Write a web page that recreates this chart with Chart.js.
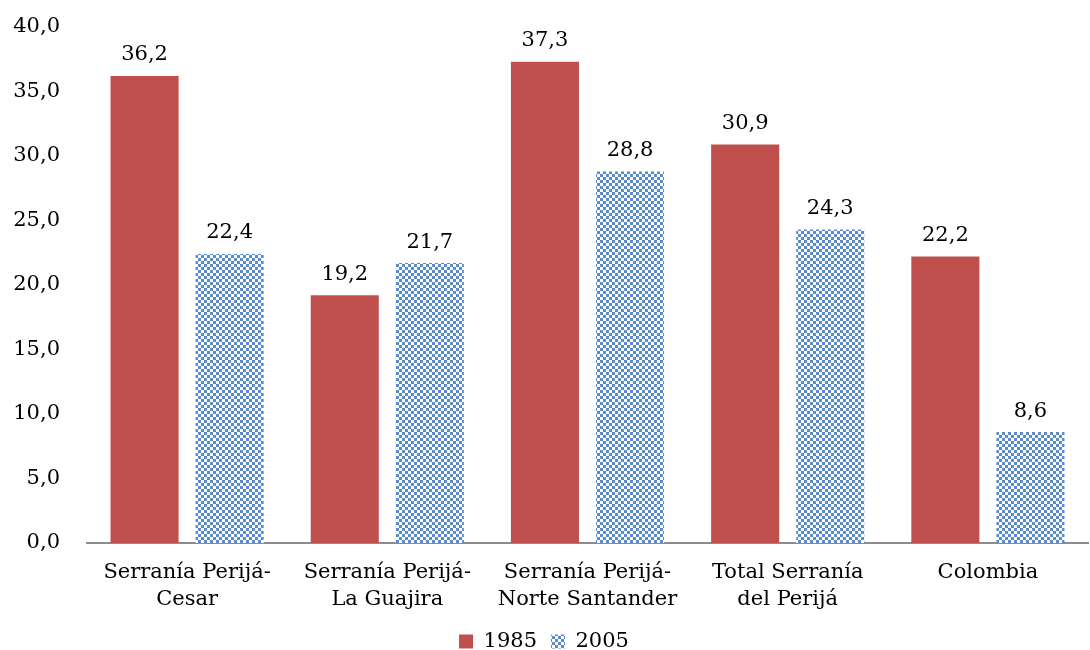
<!DOCTYPE html>
<html>
<head>
  <title>Serranía del Perijá</title>
  <script src="https://cdn.jsdelivr.net/npm/chart.js"></script>
  <style>
    html, body { margin: 0; padding: 0; background: #fff; }
    #wrap { width: 1090px; height: 650px; }
  </style>
</head>
<body>
  <div id="wrap"><canvas id="chart"></canvas></div>
  <script>
    const categories = [
      ['Serranía Perijá-', 'Cesar'],
      ['Serranía Perijá-', 'La Guajira'],
      ['Serranía Perijá-', 'Norte Santander'],
      ['Total Serranía', 'del Perijá'],
      'Colombia'
    ];
    const values1985 = [36.2, 19.2, 37.3, 30.9, 22.2];
    const values2005 = [22.4, 21.7, 28.8, 24.3, 8.6];
    const yTicks = { min: 0, max: 40, step: 5 };

    const fontFamily = "'DejaVu Serif', serif";
    const fmt = v => v.toFixed(1).replace('.', ',');

    // patrón cuadriculado azul para 2005
    function makePattern() {
      const c = document.createElement('canvas');
      c.width = 6; c.height = 6;
      const g = c.getContext('2d');
      g.fillStyle = '#ffffff';
      g.fillRect(0, 0, 6, 6);
      g.fillStyle = '#5b8bcb';
      g.fillRect(0, 0, 3, 3);
      g.fillRect(3, 3, 3, 3);
      return g.createPattern(c, 'repeat');
    }
    const ctx = document.getElementById('chart').getContext('2d');
    const pattern = makePattern();

    const valueLabels = {
      id: 'valueLabels',
      afterDatasetsDraw(chart) {
        const c = chart.ctx;
        c.save();
        c.font = '21px ' + fontFamily;
        c.fillStyle = '#000';
        c.textAlign = 'center';
        c.textBaseline = 'middle';
        chart.data.datasets.forEach((ds, i) => {
          chart.getDatasetMeta(i).data.forEach((bar, j) => {
            c.fillText(fmt(ds.data[j]), bar.x, bar.y - 21);
          });
        });
        c.restore();
      }
    };

    new Chart(ctx, {
      type: 'bar',
      data: {
        labels: categories,
        datasets: [
          { label: '1985', data: values1985, backgroundColor: '#c0504d' },
          { label: '2005', data: values2005, backgroundColor: pattern }
        ]
      },
      options: {
        responsive: true,
        maintainAspectRatio: false,
        animation: false,
        layout: { padding: { top: 27, right: 2, left: 0, bottom: 0 } },
        datasets: { bar: { categoryPercentage: 0.85, barPercentage: 0.8 } },
        plugins: {
          legend: {
            position: 'bottom',
            maxHeight: 33,
            labels: {
              font: { family: fontFamily, size: 21 },
              color: '#000',
              boxWidth: 14, boxHeight: 14,
              padding: 14
            }
          },
          tooltip: { enabled: false }
        },
        scales: {
          x: {
            grid: { display: false, drawTicks: false },
            border: { display: true, color: '#8c8c8c', width: 2 },
            ticks: {
              color: '#000',
              font: { family: fontFamily, size: 21, lineHeight: 1.3 },
              maxRotation: 0, autoSkip: false, padding: 16
            },
            afterFit(scale) { scale.height = 74; }
          },
          y: {
            min: yTicks.min, max: yTicks.max,
            grid: { display: false, drawTicks: false },
            border: { display: false },
            ticks: {
              stepSize: yTicks.step,
              color: '#000',
              font: { family: fontFamily, size: 21 },
              padding: 27,
              callback: v => fmt(v)
            },
            afterFit(scale) {
              scale.width = 87;
              scale.paddingTop = 0;
              scale.paddingBottom = 0;
            }
          }
        }
      },
      plugins: [valueLabels]
    });
  </script>
</body>
</html>
